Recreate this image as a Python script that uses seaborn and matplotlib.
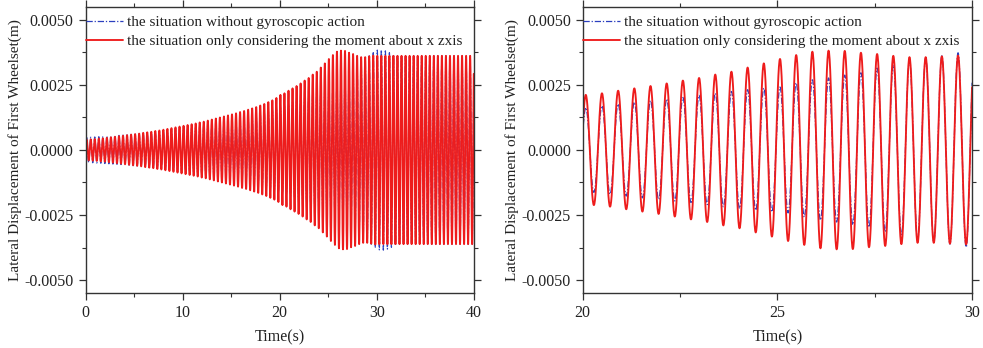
import numpy as np
import pandas as pd
import matplotlib
matplotlib.use("Agg")
import matplotlib.pyplot as plt
import seaborn as sns
from matplotlib.ticker import MultipleLocator

# ---- data ----
# oscillation period (s) and time of the first positive peak (s)
period = 0.4158
first_peak = 0.12

# peak amplitude (m) of each cycle, red: only considering moment about x axis
red_amp = [
    0.00040, 0.00041, 0.00042, 0.00044, 0.00045, 0.00047, 0.00049, 0.00051, 0.00053, 0.00055,
    0.00057, 0.00059, 0.00061, 0.00063, 0.00066, 0.00068, 0.00070, 0.00073, 0.00075, 0.00078,
    0.00081, 0.00084, 0.00087, 0.00090, 0.00093, 0.00096, 0.00099, 0.00102, 0.00106, 0.00109,
    0.00113, 0.00117, 0.00121, 0.00125, 0.00129, 0.00133, 0.00137, 0.00141, 0.00146, 0.00150,
    0.00155, 0.00160, 0.00165, 0.00171, 0.00177, 0.00184, 0.00191, 0.00200,
    0.00212, 0.00218, 0.00228, 0.00237, 0.00246, 0.00256, 0.00267, 0.00277, 0.00290, 0.00301,
    0.00317, 0.00333, 0.00350, 0.00365, 0.00378, 0.00382, 0.00381, 0.00374, 0.00369, 0.00362,
    0.00357, 0.00357, 0.00360, 0.00363, 0.00362,
    0.00362, 0.00362, 0.00362, 0.00362, 0.00362, 0.00362, 0.00362, 0.00362, 0.00362, 0.00362,
    0.00362, 0.00362, 0.00362, 0.00362, 0.00362, 0.00362, 0.00362, 0.00362, 0.00362, 0.00362,
    0.00362, 0.00362, 0.00362, 0.00362,
]
# blue: without gyroscopic action
blue_amp = [
    0.00048, 0.00049, 0.00050, 0.00051, 0.00052, 0.00053, 0.00054, 0.00055, 0.00056, 0.00057,
    0.00058, 0.00060, 0.00061, 0.00062, 0.00064, 0.00065, 0.00067, 0.00068, 0.00070, 0.00071,
    0.00073, 0.00075, 0.00077, 0.00079, 0.00081, 0.00083, 0.00085, 0.00087, 0.00089, 0.00092,
    0.00094, 0.00097, 0.00100, 0.00103, 0.00106, 0.00109, 0.00112, 0.00115, 0.00119, 0.00122,
    0.00126, 0.00130, 0.00134, 0.00139, 0.00144, 0.00149, 0.00154, 0.00159,
    0.00163, 0.00170, 0.00177, 0.00184, 0.00190, 0.00196, 0.00202, 0.00210, 0.00218, 0.00225,
    0.00232, 0.00238, 0.00242, 0.00258, 0.00270, 0.00277, 0.00288, 0.00297, 0.00315, 0.00327,
    0.00346, 0.00354, 0.00362, 0.00374, 0.00384, 0.00385, 0.00381, 0.00374, 0.00368,
    0.00362, 0.00362, 0.00362, 0.00362, 0.00362, 0.00362, 0.00362, 0.00362, 0.00362, 0.00362,
    0.00362, 0.00362, 0.00362, 0.00362, 0.00362, 0.00362, 0.00362, 0.00362, 0.00362, 0.00362,
]

label_blue = "the situation without gyroscopic action"
label_red = "the situation only considering the moment about x zxis"
xlabel = "Time(s)"
ylabel = "Lateral Displacement of First Wheelset(m)"
left_xlim = (0, 40)
right_xlim = (20, 30)
ylim = (-0.0055, 0.0055)
yticks = [-0.0050, -0.0025, 0.0000, 0.0025, 0.0050]


def trace(amps):
    # extrema alternate +A_k (peak) and -A_k (trough half a period later);
    # a smooth half-wave joins each pair of neighbouring extrema
    ext_t, ext_v = [], []
    for k, a in enumerate(amps):
        ext_t += [first_peak + k * period, first_peak + (k + 0.5) * period]
        ext_v += [a, -a]
    ext_t = [first_peak - 0.5 * period] + ext_t
    ext_v = [-amps[0]] + ext_v
    ts, vs = [], []
    for i in range(len(ext_t) - 1):
        s = np.linspace(0, 1, 30, endpoint=False)
        t = ext_t[i] + s * (ext_t[i + 1] - ext_t[i])
        v = (ext_v[i] + ext_v[i + 1]) / 2 + (ext_v[i] - ext_v[i + 1]) / 2 * np.cos(np.pi * s)
        ts.append(t)
        vs.append(v)
    t = np.concatenate(ts)
    v = np.concatenate(vs)
    m = (t >= 0) & (t <= 40)
    return pd.DataFrame({"t": t[m], "y": v[m]})


blue_df = trace(blue_amp)
red_df = trace(red_amp)

sns.set_style("ticks")
plt.rcParams["font.family"] = ["Liberation Serif", "DejaVu Serif"]

fig = plt.figure(figsize=(9.83, 3.48), dpi=100)
ax1 = fig.add_axes([0.087, 0.158, 0.395, 0.822])
ax2 = fig.add_axes([0.5928, 0.158, 0.396, 0.822])

blue_c = "#2b3fbf"
red_c = "#ee1c1c"

for ax, xl, major, minor in [(ax1, left_xlim, 10, 5), (ax2, right_xlim, 5, 2.5)]:
    sns.lineplot(data=blue_df, x="t", y="y", ax=ax, color=blue_c, lw=0.9,
                 linestyle=(0, (5, 1.5, 1, 1.5)), estimator=None, sort=False,
                 label=label_blue)
    sns.lineplot(data=red_df, x="t", y="y", ax=ax, color=red_c, lw=1.35,
                 estimator=None, sort=False, label=label_red)
    ax.set_xlim(*xl)
    ax.set_ylim(*ylim)
    ax.set_yticks(yticks)
    ax.set_yticklabels([f"{v:.4f}" for v in yticks])
    ax.xaxis.set_major_locator(MultipleLocator(major))
    ax.xaxis.set_minor_locator(MultipleLocator(minor))
    ax.yaxis.set_minor_locator(MultipleLocator(0.00125))
    ax.set_xlabel(xlabel, fontsize=11.5, color="#222222", labelpad=6)
    ax.set_ylabel(ylabel, fontsize=11, color="#222222", labelpad=2)
    ax.tick_params(which="both", direction="out", top=True, right=True,
                   color="#333333", labelcolor="#222222", labelsize=11.5)
    ax.tick_params(which="major", length=5, width=0.9)
    ax.tick_params(which="minor", length=3, width=0.8)
    for sp in ax.spines.values():
        sp.set_visible(True)
        sp.set_color("#333333")
        sp.set_linewidth(1.0)
    leg = ax.legend(loc="upper left", bbox_to_anchor=(-0.006, 0.982),
                    frameon=False, fontsize=11,
                    handlelength=2.4, handletextpad=0.25, borderaxespad=0.0,
                    borderpad=0.2, labelspacing=0.35)
    for txt in leg.get_texts():
        txt.set_color("#222222")

fig.savefig("out.png", dpi=100)
